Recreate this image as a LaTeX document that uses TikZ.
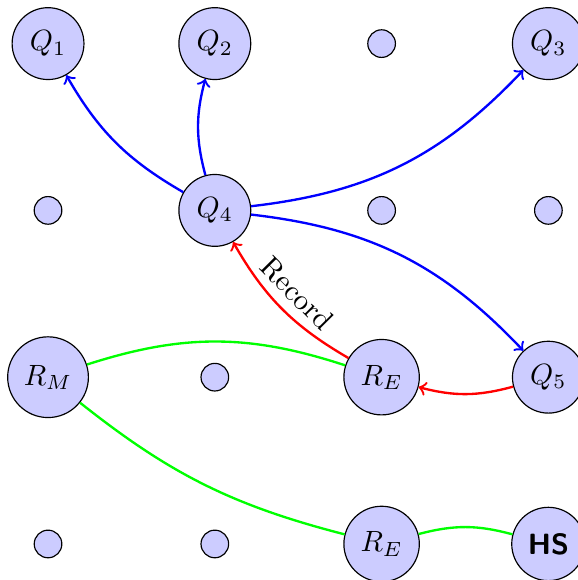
\documentclass[tikz,border=0pt]{standalone}
\begin{document}
\begin{tikzpicture}[
  st/.style={circle, draw, fill=blue!20},
  edgeb/.style={->, thick, blue},
  edger/.style={->, thick, red},
  edgeg/.style={thick, green},
  lbl/.style={sloped, above, text=black}
]
\useasboundingbox (-0.576,-0.432) rectangle (6.355,6.523);
% row 4 (top)
\node[st] (q1) at (0,6) {$Q_1$};
\node[st] (q2) at (2,6) {$Q_2$};
\node[st] (e13) at (4,6) {};
\node[st] (q3) at (6,6) {$Q_3$};
% row 3
\node[st] (e21) at (0,4) {};
\node[st] (q4) at (2,4) {$Q_4$};
\node[st] (e23) at (4,4) {};
\node[st] (e24) at (6,4) {};
% row 2
\node[st] (rm) at (0,2) {$R_M$};
\node[st] (e32) at (2,2) {};
\node[st] (re1) at (4,2) {$R_E$};
\node[st] (q5) at (6,2) {$Q_5$};
% row 1
\node[st] (e41) at (0,0) {};
\node[st] (e42) at (2,0) {};
\node[st] (re2) at (4,0) {$R_E$};
\node[st] (hs) at (6,0) {\textsf{\textbf{HS}}};
% edges
\draw[edgeb] (q4) to[bend left=15] (q1);
\draw[edgeb] (q4) to[bend left=15] (q2);
\draw[edgeb] (q4) to[bend right=20] (q3);
\draw[edgeb] (q4) to[bend left=20] (q5);
\draw[edger] (q5) to[bend left=15] (re1);
\draw[edger] (re1) to[bend left=15] node[lbl] {Record} (q4);
\draw[edgeg] (rm) to[bend left=18] (re1);
\draw[edgeg] (rm) to[bend right=12] (re2);
\draw[edgeg] (re2) to[bend left=15] (hs);
\end{tikzpicture}
\end{document}
